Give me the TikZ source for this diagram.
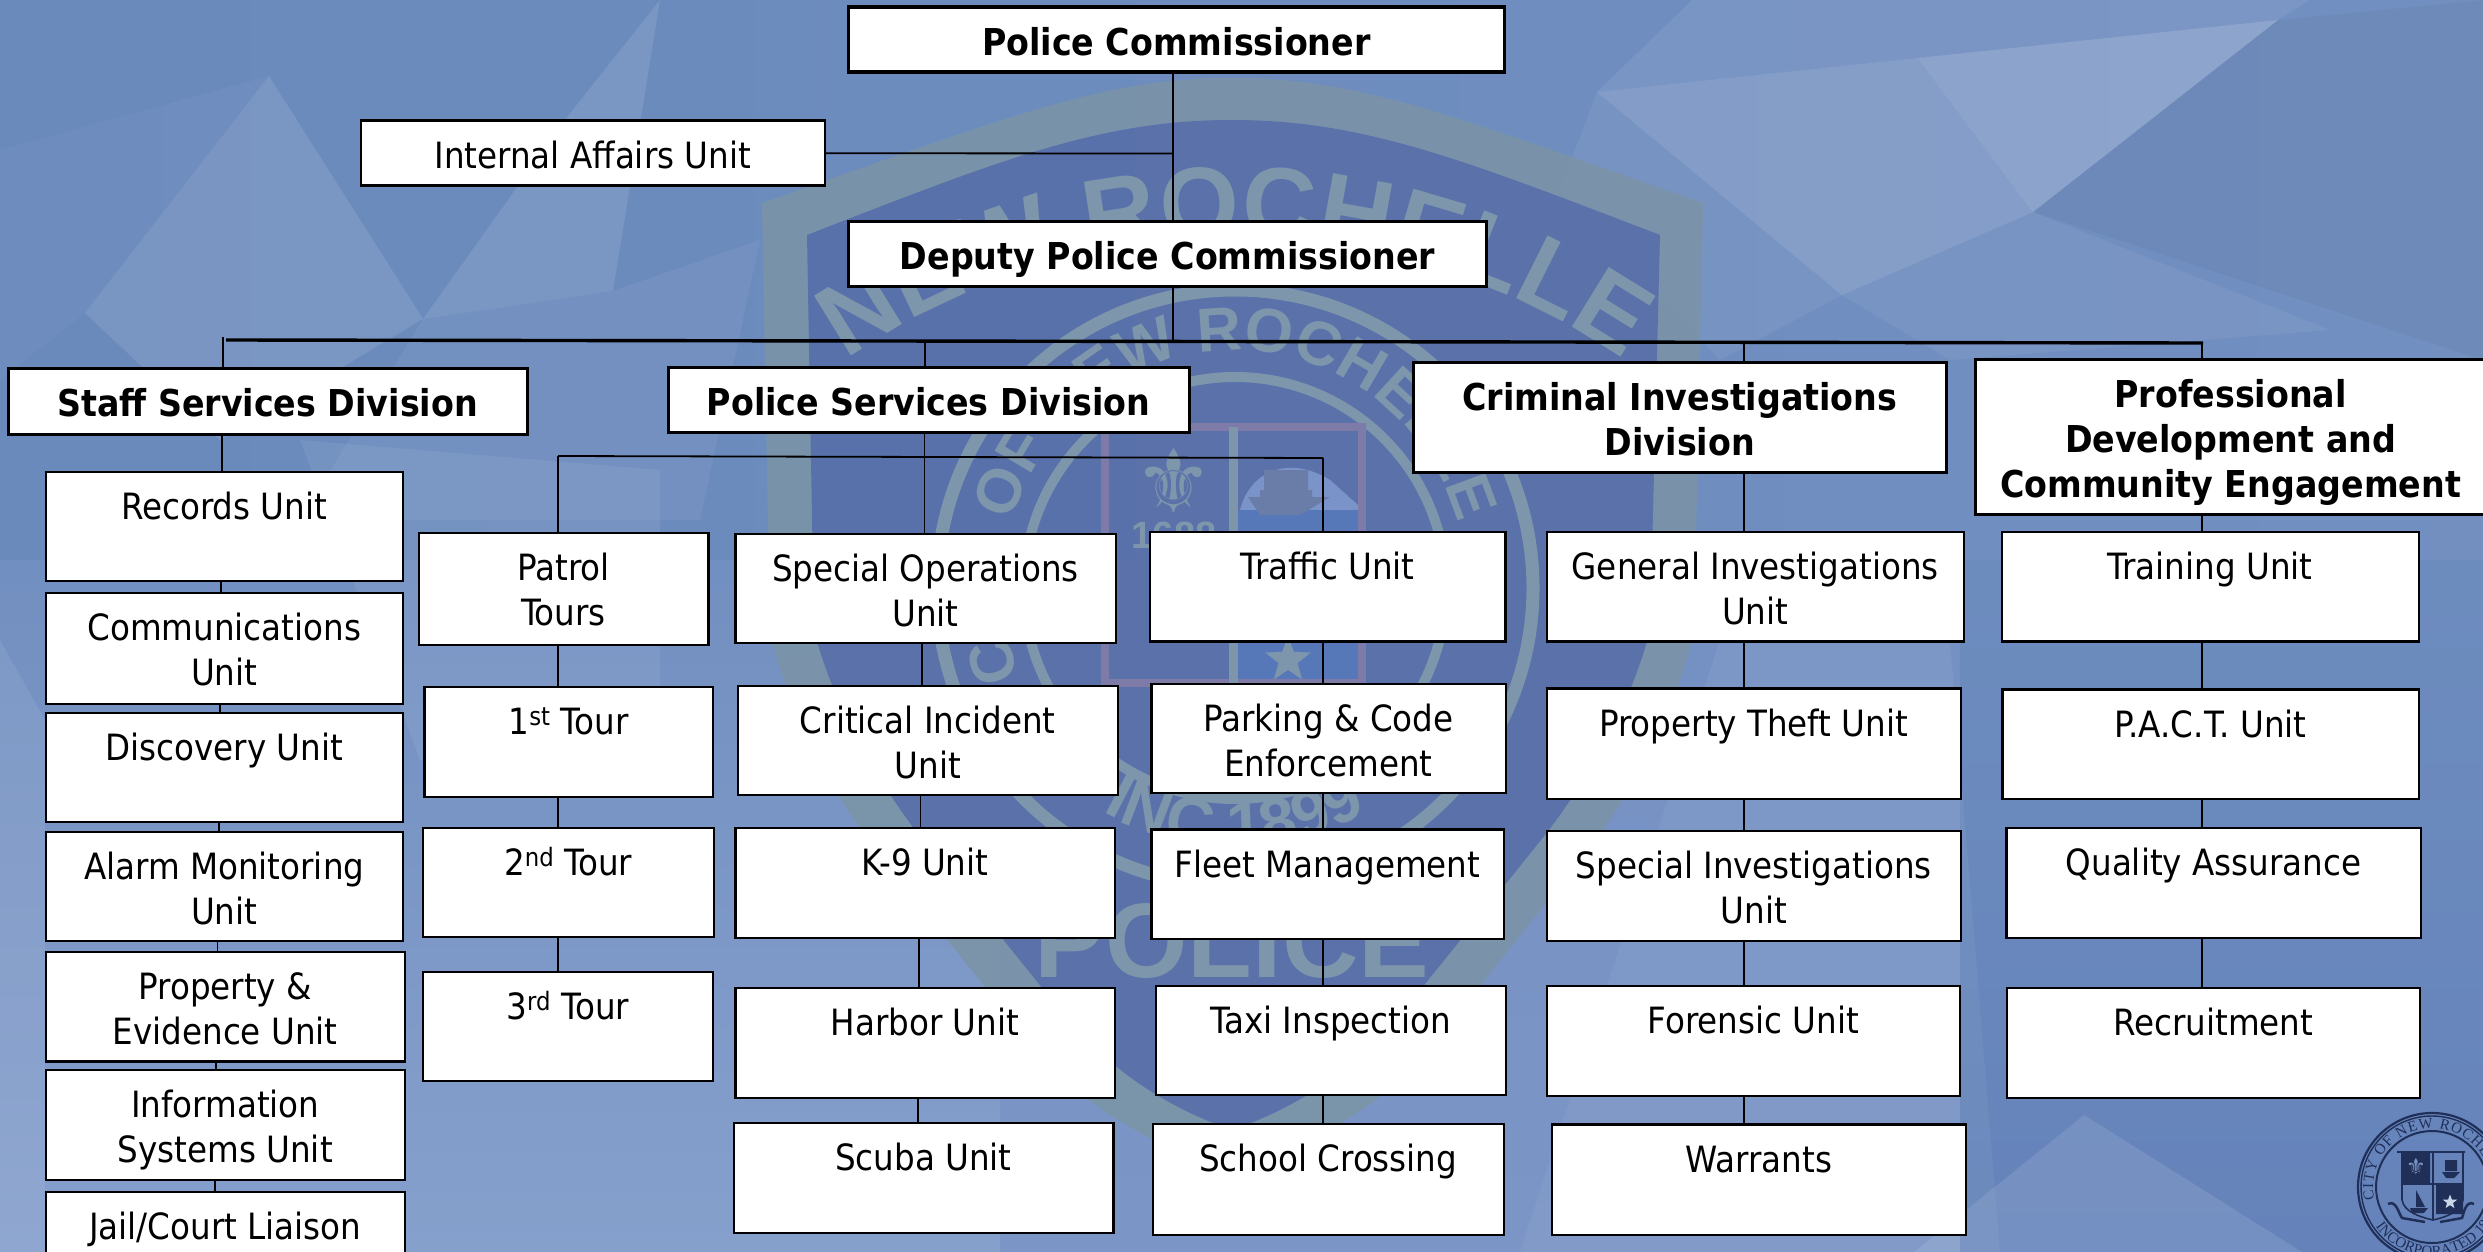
\documentclass[tikz,border=0pt]{standalone}
\usepackage{fontspec}
\setmainfont{DejaVu Sans Condensed}
\newfontfamily\wmfont{Liberation Sans}
\newfontfamily\sealfont{Liberation Serif}
\newfontfamily\symfont{DejaVu Sans}
\usetikzlibrary{decorations.text,shapes.geometric,shadings}
\definecolor{bgA}{HTML}{6A8ABC}
\definecolor{bgB}{HTML}{7B95C6}
\definecolor{bgC}{HTML}{86A0CC}
\definecolor{bgD}{HTML}{6583BA}
\definecolor{band}{HTML}{7B94A6}
\definecolor{wmdark}{HTML}{5970AB}
\definecolor{wmtext}{HTML}{7D96AC}
\definecolor{wmframe}{HTML}{7F7BA8}
\definecolor{wmwater}{HTML}{5678B8}
\definecolor{wmlight}{HTML}{7A93C8}
\definecolor{wmship}{HTML}{6A7CA8}
\definecolor{sealink}{HTML}{1F2F58}
\tikzset{
  orgbox/.style={draw=black,fill=white,line width=2.5pt,inner sep=0pt,anchor=north west,
    xshift=-1.5pt,yshift=1.5pt,font=\fontsize{36.2}{45}\selectfont},
  headbox/.style={orgbox,line width=3.2pt,font=\fontsize{37}{45}\selectfont\bfseries},
  wire/.style={draw=black,line width=1.8pt},
  thinwire/.style={draw=black,line width=1.4pt},
  buswire/.style={draw=black,line width=3.4pt},
  facet/.style={fill=white,draw=none,fill opacity=#1},
  sealline/.style={draw=sealink,line width=#1}
}
\newcommand\ubox[7][orgbox]{%
  \node[#1] (#2) at (#3,#4) {\parbox[t][\dimexpr #6pt-#4pt\relax][t]{\dimexpr #5pt-#3pt\relax}{\centering\rule{0pt}{48pt}#7}};}
\newcommand\uplink[4][wire]{\draw[#1] (#2.south -| #4) -- (#3.north -| #4);}
\begin{document}
\begin{tikzpicture}[x=1pt,y=-1pt]
\useasboundingbox (0,0) rectangle (2483,1252);
\clip (0,0) rectangle (2483,1252);
% background
\fill[bgA] (0,0) rectangle (2483,1252);
\path[left color=bgA,right color=bgA!55!bgB,fill opacity=1] (0,0) rectangle (2483,560);
\path[top color=bgA!55!bgB,bottom color=bgC] (0,560) rectangle (1000,1252);
\path[top color=bgA!40!bgB,bottom color=bgB] (1000,560) rectangle (1960,1252);
\path[top color=bgA!80!bgB,bottom color=bgD] (1960,560) rectangle (2483,1252);
\fill[facet=.10] (269,76) -- (85,313) -- (220,440) -- (423,319) -- cycle;
\fill[facet=.03] (0,150) -- (269,76) -- (85,313) -- (0,380) -- cycle;
\fill[facet=.10] (660,0) -- (568,116) -- (423,319) -- (613,291) -- cycle;
\fill[facet=.05] (423,319) -- (613,291) -- (760,240) -- (700,520) -- (300,520) -- cycle;
\fill[facet=.07] (300,440) -- (660,470) -- (660,700) -- (420,760) -- cycle;
\fill[facet=.08] (0,640) -- (45,720) -- (45,1252) -- (0,1252) -- cycle;
\fill[facet=.07] (1597,92) -- (1692,0) -- (2310,0) -- (2278,20) -- (1918,58) -- cycle;
\fill[facet=.20] (1918,58) -- (2278,20) -- (2033,212) -- cycle;
\fill[facet=.15] (1597,92) -- (1918,58) -- (2033,212) -- (1842,295) -- cycle;
\fill[facet=.06] (1842,295) -- (2033,212) -- (2330,330) -- (1950,360) -- cycle;
\fill[facet=.06] (1597,92) -- (1842,295) -- (1720,360) -- (1560,190) -- cycle;
\fill[facet=.05] (1950,640) -- (2000,1252) -- (1520,1252) -- (1720,640) -- cycle;
\fill[facet=.10] (2084,1115) -- (1914,1252) -- (2302,1252) -- cycle;
\fill[black,fill opacity=.03] (2278,20) -- (2483,0) -- (2483,360) -- (2033,212) -- cycle;
% watermark shield
\fill[band,fill opacity=.85] (762,203) .. controls (1000,120) and (1100,78) .. (1232,78)
  .. controls (1364,78) and (1464,120) .. (1703,203)
  -- (1694,633) .. controls (1670,730) and (1620,810) .. (1584,855)
  -- (1433,1045) .. controls (1380,1110) and (1300,1150) .. (1232,1172)
  .. controls (1164,1150) and (1084,1110) .. (1031,1045) -- (880,855)
  .. controls (844,810) and (794,730) .. (770,633) -- cycle;
\fill[wmdark,fill opacity=.97] (807,235) .. controls (1000,160) and (1100,120) .. (1232,120)
  .. controls (1364,120) and (1464,160) .. (1660,235)
  -- (1650,630) .. controls (1630,710) and (1580,790) .. (1545,835)
  -- (1400,1015) .. controls (1350,1075) and (1290,1110) .. (1232,1130)
  .. controls (1174,1110) and (1114,1075) .. (1064,1015) -- (919,835)
  .. controls (884,790) and (834,710) .. (814,630) -- cycle;
\path[decorate,decoration={text along path,text align=center,
   text={|\wmfont\bfseries\fontsize{102}{102}\selectfont\color{wmtext}|NEW ROCHELLE}}]
   plot[domain=140:40,samples=80] ({1235+677*cos(\x)},{915-677*sin(\x)});
\draw[wmtext,line width=13pt] (1235,588) circle[radius=298pt];
\draw[wmtext,line width=10pt] (1235,588) circle[radius=211pt];
\path[decorate,decoration={text along path,text align=center,
   text={|\wmfont\bfseries\fontsize{62}{62}\selectfont\color{wmtext}|CITY OF NEW ROCHELLE}}]
   plot[domain=225:-15,samples=80] ({1235+232*cos(\x+4)},{588-238*sin(\x+4)});
\path[decorate,decoration={text along path,text align=center,
   text={|\wmfont\bfseries\fontsize{66}{66}\selectfont\color{wmtext}|INC 1899}}]
   plot[domain=225:315,samples=40] ({1235+260*cos(\x)},{588-260*sin(\x)});
\draw[wmframe,line width=8pt] (1105,427) rectangle (1362,683);
\fill[wmlight] (1240,510) .. controls (1250,470) and (1290,455) .. (1330,480) -- (1358,505) -- (1358,510) -- cycle;
\fill[wmwater] (1238,510) rectangle (1358,679);
\fill[wmship] (1260,497) rectangle (1312,490) (1264,470) rectangle (1308,490) (1248,497) -- (1330,497) -- (1300,515) -- (1260,515) -- cycle;
\draw[wmtext,line width=9pt] (1233,427) -- (1233,683);
\node[text=wmtext,font=\symfont\fontsize{88}{88}\selectfont] (wmlily) at (1174,480) {⚜};
\node[text=wmtext,font=\wmfont\bfseries\fontsize{38}{38}\selectfont] (wm1688) at (1174,535) {1688};
\node[star,star points=5,star point ratio=2.4,fill=wmtext,minimum size=48pt,inner sep=0pt] (wmstar) at (1288,660) {};
\node[text=wmtext,font=\wmfont\bfseries\fontsize{106}{106}\selectfont,anchor=base] (wmpolice) at (1232,977) {POLICE};
% seal
\draw[sealline=2.2pt] (2432,1187) circle[radius=74pt];
\draw[sealline=1.4pt] (2432,1187) circle[radius=71pt];
\draw[sealline=2pt] (2432,1187) circle[radius=56pt];
\path[decorate,decoration={text along path,text align=fit to path,
   text={|\sealfont\fontsize{15}{15}\selectfont\color{sealink}|CITY OF NEW ROCHELLE}}]
   plot[domain=192:0,samples=40] ({2432+59*cos(\x)},{1187-59*sin(\x)});
\path[decorate,decoration={text along path,text align=fit to path,
   text={|\sealfont\fontsize{15}{15}\selectfont\color{sealink}|INCORPORATED 1899}}]
   plot[domain=215:340,samples=40] ({2432+69*cos(\x)},{1187-69*sin(\x)});
\fill[sealink] (2402,1153) rectangle (2430,1183) (2436,1185) rectangle (2463,1214);
\draw[sealink,line width=1.6pt] (2397,1152) -- (2465,1152) (2402,1152) -- (2402,1200) .. controls (2404,1212) and (2420,1217) .. (2433,1220) .. controls (2446,1217) and (2461,1212) .. (2463,1200) -- (2463,1152) (2433,1152) -- (2433,1220) (2402,1184) -- (2463,1184);
\node[text=bgB,font=\symfont\fontsize{22}{22}\selectfont,inner sep=0pt] (seallily) at (2416,1166) {⚜};
\node[star,star points=5,star point ratio=2.4,fill=bgB!40!white,minimum size=15pt,inner sep=0pt] (sealstar) at (2450,1202) {};
\fill[sealink] (2442,1172) -- (2460,1172) -- (2454,1178) -- (2446,1178) -- cycle (2445,1160) rectangle (2457,1171);
\fill[sealink] (2410,1208) -- (2428,1208) -- (2424,1213) -- (2412,1213) -- cycle (2416,1190) -- (2416,1207) -- (2425,1207) -- cycle;
\draw[sealink,line width=2.5pt] (2388,1204) .. controls (2396,1200) and (2398,1212) .. (2402,1218) -- (2425,1222) (2474,1204) .. controls (2466,1200) and (2464,1212) .. (2462,1218) -- (2440,1222);
% top level boxes
\ubox[headbox]{pc}{848.5}{7}{1504}{72}{Police Commissioner}
\ubox{ia}{361}{121}{825}{186}{Internal Affairs Unit}
\ubox[headbox]{dep}{848.5}{221.5}{1486.5}{286.6}{Deputy Police Commissioner}
\ubox[headbox]{staff}{8}{368.5}{527}{434}{Staff Services Division}
\ubox[headbox]{psd}{668}{367}{1189}{432}{Police Services Division}
\ubox[headbox]{cid}{1413.6}{362}{1946}{472.6}{Criminal Investigations\\Division}
\ubox[headbox]{pro}{1975}{359}{2486}{514}{Professional\\Development and\\Community Engagement}
% staff services
\ubox{rec}{46}{472}{403}{581}{Records Unit}
\ubox{com}{46}{593}{403}{704}{Communications\\Unit}
\ubox{dis}{46}{713}{403}{822}{Discovery Unit}
\ubox{ala}{46}{832}{403}{941}{Alarm Monitoring\\Unit}
\ubox{prp}{46}{952}{405}{1061.5}{Property \&\\Evidence Unit}
\ubox{inf}{46}{1070}{405}{1180}{Information\\Systems Unit}
\ubox{jail}{46}{1192}{405}{1300}{Jail/Court Liaison}
% patrol
\ubox{pat}{419}{533}{708.6}{645}{Patrol\\Tours}
\ubox{t1}{424.7}{687}{713}{797}{1\textsuperscript{st} Tour}
\ubox{t2}{423}{828}{714}{937}{2\textsuperscript{nd} Tour}
\ubox{t3}{423}{972}{713}{1081}{3\textsuperscript{rd} Tour}
% special operations
\ubox{sop}{735.5}{534}{1116}{643}{Special Operations\\Unit}
\ubox{cri}{738}{686}{1118}{795}{Critical Incident\\Unit}
\ubox{k9}{735.5}{828}{1115}{938}{K-9 Unit}
\ubox{har}{735.5}{988}{1115}{1098}{Harbor Unit}
\ubox{scu}{734}{1123}{1113.5}{1233}{Scuba Unit}
% traffic
\ubox{tra}{1150}{532}{1505.6}{641.6}{Traffic Unit}
\ubox{par}{1151.5}{684}{1506}{793}{Parking \& Code\\Enforcement}
\ubox{fle}{1151.5}{829.6}{1504}{939}{Fleet Management}
\ubox{tax}{1156}{986}{1506}{1095}{Taxi Inspection}
\ubox{sch}{1153}{1124}{1504}{1235}{School Crossing}
% criminal investigations
\ubox{gen}{1547}{532}{1964}{641.6}{General Investigations\\Unit}
\ubox{pth}{1547}{688.7}{1961}{799}{Property Theft Unit}
\ubox{sin}{1547}{831}{1961}{941}{Special Investigations\\Unit}
\ubox{for}{1547}{986}{1960}{1096}{Forensic Unit}
\ubox{war}{1552}{1124.6}{1966}{1235}{Warrants}
% professional development
\ubox{trn}{2002}{532}{2419}{641.6}{Training Unit}
\ubox{pac}{2002.6}{689.5}{2419}{799}{P.A.C.T. Unit}
\ubox{qua}{2006.5}{828}{2421}{938}{Quality Assurance}
\ubox{rcr}{2007}{988}{2420}{1098}{Recruitment}
% column positions
\coordinate (xtop) at (1173,0);
\coordinate (xstaff) at (222,0);
\coordinate (xpsd) at (924.5,0);
\coordinate (xcid) at (1744,0);
\coordinate (xpro) at (2201.6,0);
\coordinate (xpat) at (558,0);
\coordinate (xtra) at (1323,0);
% connectors
\uplink{pc}{dep}{xtop}
\coordinate (iajoin) at (1173,153.5);
\draw[wire] (ia.east) -- (iajoin);
\coordinate (busL) at (226,340);
\coordinate (busTop) at (1173,341.5);
\coordinate (busR) at (2203,343);
\draw[buswire] (busL) -- (busR);
\draw[wire] (dep.south -| xtop) -- (busTop);
\coordinate (dropA) at (223,337);
\coordinate (dropB) at (925,341);
\coordinate (dropC) at (1744,344);
\coordinate (dropD) at (2201.6,343);
\draw[wire] (dropA) -- (staff.north -| dropA);
\draw[wire] (dropB) -- (psd.north -| dropB);
\draw[wire] (dropC) -- (cid.north -| dropC);
\draw[wire] (dropD) -- (pro.north -| dropD);
\coordinate (subL) at (558,456);
\coordinate (subR) at (1323,458);
\draw[wire] (subL) -- (subR);
\draw[wire] (subL) -- (pat.north -| subL);
\draw[wire] (subR) -- (tra.north -| subR);
\uplink{psd}{sop}{xpsd}
\uplink{staff}{rec}{xstaff}
\coordinate (xa) at (221,0); \uplink[thinwire]{rec}{com}{xa}
\coordinate (xb) at (220,0); \uplink[thinwire]{com}{dis}{xb}
\coordinate (xc) at (219,0); \uplink[thinwire]{dis}{ala}{xc}
\coordinate (xd) at (217.5,0); \uplink[thinwire]{ala}{prp}{xd}
\coordinate (xe) at (216,0); \uplink[thinwire]{prp}{inf}{xe}
\coordinate (xf) at (215,0); \uplink[thinwire]{inf}{jail}{xf}
\uplink{pat}{t1}{xpat}
\uplink{t1}{t2}{xpat}
\uplink{t2}{t3}{xpat}
\coordinate (xg) at (922,0); \uplink[thinwire]{sop}{cri}{xg}
\coordinate (xh) at (920.5,0); \uplink[thinwire]{cri}{k9}{xh}
\coordinate (xi) at (919,0); \uplink[thinwire]{k9}{har}{xi}
\coordinate (xj) at (918,0); \uplink[thinwire]{har}{scu}{xj}
\uplink{tra}{par}{xtra}
\uplink{par}{fle}{xtra}
\uplink{fle}{tax}{xtra}
\uplink{tax}{sch}{xtra}
\uplink{cid}{gen}{xcid}
\uplink{gen}{pth}{xcid}
\uplink{pth}{sin}{xcid}
\uplink{sin}{for}{xcid}
\uplink{for}{war}{xcid}
\uplink{pro}{trn}{xpro}
\uplink{trn}{pac}{xpro}
\uplink{pac}{qua}{xpro}
\uplink{qua}{rcr}{xpro}
\end{tikzpicture}
\end{document}
